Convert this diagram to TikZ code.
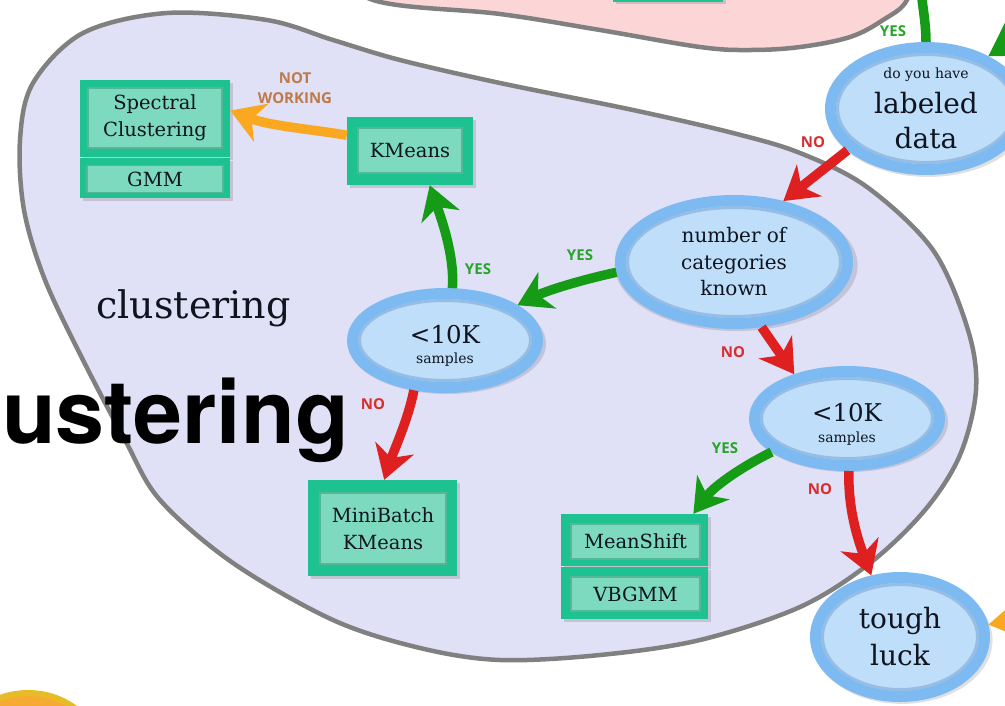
\documentclass[tikz,border=0pt]{standalone}
\usepackage{fontspec}
\setmainfont{DejaVu Serif}
\newfontfamily\tagfont{Open Sans}
\newfontfamily\headfont{TeX Gyre Heros}
\usetikzlibrary{arrows.meta,shapes.geometric,shadows,calc}

\definecolor{lavender}{RGB}{224,224,246}
\definecolor{blush}{RGB}{252,213,214}
\definecolor{rim}{RGB}{128,128,128}
\definecolor{ringblue}{RGB}{125,186,242}
\definecolor{poolblue}{RGB}{190,222,250}
\definecolor{edgeblue}{RGB}{80,130,190}
\definecolor{boxteal}{RGB}{30,194,145}
\definecolor{boxpane}{RGB}{125,218,190}
\definecolor{paneedge}{RGB}{84,184,150}
\definecolor{yesgreen}{RGB}{22,155,22}
\definecolor{yestext}{RGB}{40,165,40}
\definecolor{nored}{RGB}{222,32,32}
\definecolor{notext}{RGB}{215,45,45}
\definecolor{tryorange}{RGB}{250,168,32}
\definecolor{trytext}{RGB}{190,122,72}
\definecolor{inkdark}{RGB}{16,20,30}
\definecolor{goldrim}{RGB}{232,188,38}
\definecolor{goldfill}{RGB}{246,170,52}

\begin{document}
\begin{tikzpicture}[x=1pt, y=-1pt,
  decision/.style={ellipse, draw=ringblue, fill=poolblue, line width=11pt,
    inner sep=0pt, align=center, text=inkdark,
    general shadow={fill=black, opacity=.12, shadow xshift=2pt, shadow yshift=-3pt, shadow scale=1.07},
    path picture={\draw[edgeblue, opacity=.35, line width=3pt]
      let \p1=($(path picture bounding box.north east)-(path picture bounding box.center)$) in
      (path picture bounding box.center) ellipse [x radius=\x1-7pt, y radius=\y1-7pt];}},
  shell/.style={rectangle, fill=boxteal, inner sep=0pt,
    drop shadow={opacity=.3, shadow xshift=2.5pt, shadow yshift=-2.5pt}},
  pane/.style={rectangle, fill=boxpane, draw=paneedge, line width=1.6pt, inner sep=0pt,
    text=inkdark, align=center, font=\fontsize{19.5}{26.5}\selectfont},
  go/.style={line width=9.5pt, -{Stealth[length=33pt, width=40pt, inset=10pt]}},
  yesflow/.style={go, draw=yesgreen},
  noflow/.style={go, draw=nored},
  altflow/.style={go, draw=tryorange},
  tag/.style={font=\tagfont\bfseries\fontsize{15}{20}\selectfont, inner sep=0pt, align=center},
  yestag/.style={tag, text=yestext},
  notag/.style={tag, text=notext},
  trytag/.style={tag, text=trytext},
]
\useasboundingbox (0,0) rectangle (1005,705);
\clip (0,0) rectangle (1005,705);
\fill[white] (0,0) rectangle (1005,705);

% regions
\draw[rim, fill=blush, line width=4.5pt]
  plot[smooth, tension=.6] coordinates {(330,-40) (373,0) (500,14) (600,30) (700,47) (750,50) (800,47) (850,37) (883,20) (907,0) (915,-40)} -- cycle;
\node[shell, minimum width=110, minimum height=41] (topbox) at (668,-19) {};

\draw[rim, fill=lavender, line width=4.5pt]
  plot[smooth cycle, tension=.55] coordinates {
    (20,140) (33,83) (83,33) (167,13) (267,20) (333,40) (400,60) (500,83)
    (633,110) (733,133) (800,153) (867,187) (933,250) (968,330) (976,390)
    (960,455) (925,510) (870,563) (800,607) (700,640) (600,655) (500,660)
    (420,648) (333,620) (233,563) (160,500) (125,440) (83,360) (45,280) (24,210)};

\node[text=inkdark, font=\fontsize{38}{38}\selectfont, anchor=base, inner sep=0pt] (region) at (193.5,318) {clustering};

% start marker at the lower left
\node[ellipse, draw=goldrim, fill=goldfill, line width=6pt, minimum width=148, minimum height=134] (start) at (28,760) {};

% decisions
\node[decision, minimum width=191, minimum height=122, font=\fontsize{28}{35}\selectfont] (labeled) at (926,108.5)
  {{\fontsize{14}{14}\selectfont do you have}\\labeled\\data};
\node[decision, minimum width=227, minimum height=123, font=\fontsize{20}{26.5}\selectfont] (ncat) at (734,262)
  {number of\\categories\\known};
\node[decision, minimum width=185, minimum height=94, font=\fontsize{14}{20.5}\selectfont] (s1) at (445,340.5)
  {{\fontsize{24.5}{24.5}\selectfont\rule{0pt}{29pt}<10K}\\samples};
\node[decision, minimum width=185, minimum height=94, font=\fontsize{14}{21}\selectfont] (s2) at (847,418.5)
  {{\fontsize{24.5}{24.5}\selectfont\rule{0pt}{29pt}<10K}\\samples};
\node[decision, minimum width=169, minimum height=119, font=\fontsize{28}{37}\selectfont] (tough) at (900,637)
  {tough\\luck};

% estimators
\node[shell, minimum width=150, minimum height=77] (spec) at (155,118.5) {};
\node[pane, minimum width=134, minimum height=60] (spec-t) at (155,118) {Spectral\\Clustering};
\node[shell, minimum width=150, minimum height=40] (gmm) at (155,178) {};
\node[pane, minimum width=136, minimum height=27] (gmm-t) at (155,179) {GMM};
\node[shell, minimum width=126, minimum height=68] (kmeans) at (410,151) {};
\node[pane, minimum width=104, minimum height=45] (kmeans-t) at (410,150.5) {KMeans};
\node[shell, minimum width=149, minimum height=96] (mbk) at (382.5,528) {};
\node[pane, minimum width=126, minimum height=71] (mbk-t) at (383,528.5) {MiniBatch\\KMeans};
\node[shell, minimum width=147, minimum height=52] (mshift) at (634.5,540) {};
\node[pane, minimum width=129, minimum height=35] (mshift-t) at (635.5,541.5) {MeanShift};
\node[shell, minimum width=147, minimum height=52] (vbgmm) at (634.5,593) {};
\node[pane, minimum width=129, minimum height=34] (vbgmm-t) at (635.5,594) {VBGMM};

% loose ends of flows leaving the frame
\coordinate (upexit) at (919,-45);
\coordinate (fromright) at (1065,8);
\coordinate (fromright2) at (1065,612);

% flows
\draw[noflow] (labeled.208) -- (ncat.51);
\draw[yesflow] (ncat.185) .. controls (585,279) and (548,290) .. (s1.26);
\draw[yesflow] (s1.82) .. controls (455,255) and (440,215) .. (kmeans.-60);
\draw[altflow] (kmeans.166) .. controls (310,129) and (270,126) .. (spec.6);
\draw[noflow] (s1.238) .. controls (408,420) and (394,450) .. (mbk.88);
\draw[noflow] (ncat.-67) -- (s2.140);
\draw[yesflow] (s2.204) .. controls (745,465) and (715,485) .. (mshift.24);
\draw[noflow] (s2.-88) .. controls (848,510) and (858,540) .. (tough.115);
\draw[yesflow] (labeled.north) .. controls (926,20) and (921,0) .. (upexit);
\draw[yesflow] (fromright) -- (labeled.40);
\draw[altflow] (fromright2) -- (tough.8);

% answers
\node[yestag] (yes-up) at (893,31) {YES};
\node[notag] (no-lab) at (813,142) {NO};
\node[yestag] (yes-cat) at (580,255) {YES};
\node[yestag] (yes-km) at (478,269) {YES};
\node[notag] (no-mbk) at (373,404) {NO};
\node[notag] (no-cat) at (733,352) {NO};
\node[yestag] (yes-ms) at (725,448) {YES};
\node[notag] (no-tl) at (820,489) {NO};
\node[trytag] (notwork) at (295,88) {NOT\\WORKING};

% slide heading running in from the left
\node[font=\headfont\bfseries\fontsize{88}{88}\selectfont, anchor=base east, inner sep=0pt, text=black] (heading) at (349,443) {ustering};
\end{tikzpicture}
\end{document}
